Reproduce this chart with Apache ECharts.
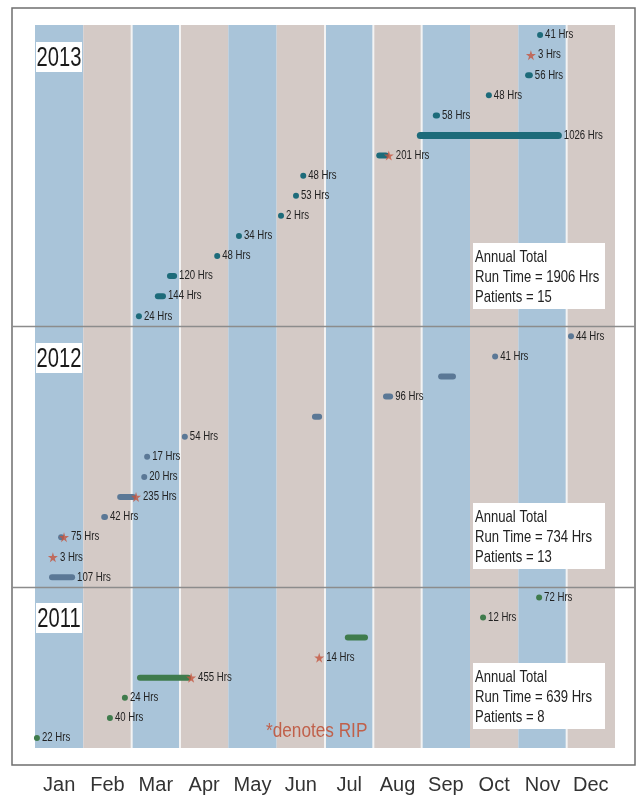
<!DOCTYPE html>
<html><head><meta charset="utf-8">
<script src="https://cdn.jsdelivr.net/npm/echarts@6/dist/echarts.min.js"></script>
<style>html,body{margin:0;padding:0;background:#fff}#c{width:639px;height:796px}</style>
</head><body><div id="c"></div>
<script>
const months = ['Jan','Feb','Mar','Apr','May','Jun','Jul','Aug','Sep','Oct','Nov','Dec'];
// each run: [startMonth, endMonth, hours (null = unlabeled), rip (1 = died)]
const runs2013 = [
  [10.45,10.45,41,0],
  [10.26,10.26,3,1],
  [10.14,10.30,56,0],
  [9.39,9.39,48,0],
  [8.23,8.38,58,0],
  [7.90,10.90,1026,0],
  [7.06,7.32,201,1],
  [5.55,5.55,48,0],
  [5.40,5.40,53,0],
  [5.09,5.09,2,0],
  [4.22,4.22,34,0],
  [3.77,3.77,48,0],
  [2.73,2.94,120,0],
  [2.48,2.71,144,0],
  [2.15,2.15,24,0]
];
const runs2012 = [
  [11.09,11.09,44,0],
  [9.52,9.52,41,0],
  [8.34,8.71,null,0],
  [7.20,7.41,96,0],
  [5.73,5.94,null,0],
  [3.10,3.10,54,0],
  [2.32,2.32,17,0],
  [2.26,2.26,20,0],
  [1.70,2.09,235,1],
  [1.37,1.51,42,0],
  [0.48,0.60,75,1],
  [0.37,0.37,3,1],
  [0.29,0.83,107,0]
];
const runs2011 = [
  [10.43,10.43,72,0],
  [9.27,9.27,12,0],
  [6.41,6.89,null,0],
  [5.88,5.88,14,1],
  [2.11,3.23,455,1],
  [1.86,1.86,24,0],
  [1.55,1.55,40,0],
  [0.04,0.04,22,0]
];
const years = ['2013','2012','2011'];
const totalHours = [1906, 734, 639];
const totalPatients = [15, 13, 8];

const FONT = '"Liberation Sans", Arial, sans-serif';
const yearColors = ['#1d6b7a', '#5b7896', '#3f7b4c'];
const starColor = '#c4553f';
const STAR = 'path://M50,0 L61,35 L98,35 L68,57 L79,91 L50,70 L21,91 L32,57 L2,35 L39,35 Z';
const sepMonths = [2,3,6,7,8,11];

const allRuns = [runs2013, runs2012, runs2011];
let offset = 0;
const rowStart = [];
allRuns.forEach(r => { rowStart.push(offset); offset += r.length; });
const totalRows = offset; // 36

const chart = echarts.init(document.getElementById('c'));

function runSeries(runs, yi) {
  const data = runs.map((r, i) => [r[0], r[1], rowStart[yi] + i]);
  return {
    type: 'custom',
    z: 5,
    encode: { x: [0, 1], y: 2 },
    data: data,
    renderItem: function (params, api) {
      const r = runs[params.dataIndex];
      const row = api.value(2);
      const s = api.coord([r[0], row]);
      const e = api.coord([r[1], row]);
      const h = (e[0] - s[0] > 100) ? 7 : 6;
      const children = [];
      let right;
      if (r[3] && e[0] - s[0] < 1) {
        right = e[0] + 5;
      } else if (e[0] - s[0] < h) {
        const mid = (s[0] + e[0]) / 2;
        children.push({ type: 'circle', shape: { cx: mid, cy: s[1], r: h / 2 }, style: { fill: yearColors[yi] } });
        right = mid + h / 2;
      } else {
        children.push({ type: 'rect', shape: { x: s[0], y: s[1] - h / 2, width: e[0] - s[0], height: h, r: h / 2 }, style: { fill: yearColors[yi] } });
        right = e[0];
      }
      if (r[3]) right = Math.max(right, e[0] + 5);
      if (r[2] != null) {
        children.push({ type: 'text', x: right + 2, y: s[1], scaleX: 0.8,
          style: { text: r[2] + ' Hrs', x: 0, y: 0, fill: '#222', fontSize: 12, fontFamily: FONT, align: 'left', verticalAlign: 'middle' } });
      }
      return { type: 'group', children: children };
    }
  };
}

const starData = [];
allRuns.forEach((runs, yi) => runs.forEach((r, i) => { if (r[3]) starData.push([r[1], rowStart[yi] + i]); }));

const series = [
  {
    type: 'custom',
    z: 1,
    silent: true,
    data: months.map((m, i) => [i, 0]),
    renderItem: function (params, api) {
      const i = api.value(0);
      const p0 = api.coord([i, -0.5]);
      const p1 = api.coord([i + 1, totalRows - 0.5]);
      const ch = [{ type: 'rect', shape: { x: p0[0], y: p0[1], width: p1[0] - p0[0], height: p1[1] - p0[1] }, style: { fill: i % 2 === 0 ? '#a9c4d9' : '#d4cac6' } }];
      if (sepMonths.indexOf(i) >= 0) {
        ch.push({ type: 'rect', shape: { x: p0[0] - 1, y: p0[1], width: 2, height: p1[1] - p0[1] }, style: { fill: '#f3f3f3' } });
      }
      return { type: 'group', children: ch };
    }
  },
  runSeries(runs2013, 0),
  runSeries(runs2012, 1),
  runSeries(runs2011, 2),
  {
    type: 'scatter',
    z: 6,
    symbol: STAR,
    symbolSize: 10,
    itemStyle: { color: starColor },
    data: starData
  }
];

const Z = 100;
const graphics = [
  { type: 'rect', z: Z, shape: { x: 12, y: 8, width: 623, height: 757 }, style: { fill: null, stroke: '#6f6f6f', lineWidth: 1.5 } }
];
[rowStart[1] - 0.5, rowStart[2] - 0.5].forEach(v => {
  graphics.push({ type: 'line', z: Z, id: 'div' + v, shape: { x1: 12, y1: 0, x2: 635, y2: 0 }, style: { stroke: '#8c8c8c', lineWidth: 1.5 } });
});
const yearBoxY = [42, 343, 603];
const totalBoxY = [243, 503, 663];
years.forEach((y, i) => {
  graphics.push({ type: 'rect', z: Z, shape: { x: 36, y: yearBoxY[i], width: 46, height: 30 }, style: { fill: '#ffffff' } });
  graphics.push({ type: 'text', z: Z + 1, x: 59, y: yearBoxY[i] + 16, scaleX: 0.72,
    style: { text: y, x: 0, y: 0, fill: '#1a1a1a', fontSize: 28, fontFamily: FONT, align: 'center', verticalAlign: 'middle' } });
  graphics.push({ type: 'rect', z: Z, shape: { x: 473, y: totalBoxY[i], width: 132, height: 66 }, style: { fill: '#ffffff' } });
  const lines = ['Annual Total', 'Run Time = ' + totalHours[i] + ' Hrs', 'Patients = ' + totalPatients[i]];
  lines.forEach((t, k) => graphics.push({ type: 'text', z: Z + 1, x: 475, y: totalBoxY[i] + 14 + 20 * k, scaleX: 0.77,
    style: { text: t, x: 0, y: 0, fill: '#222', fontSize: 17, fontFamily: FONT, align: 'left', verticalAlign: 'middle' } }));
});
graphics.push({ type: 'text', z: Z, x: 266, y: 731, scaleX: 0.86,
  style: { text: '*denotes RIP', x: 0, y: 0, fill: '#c0604a', fontSize: 20, fontFamily: FONT, align: 'left', verticalAlign: 'middle' } });

chart.setOption({
  animation: false,
  backgroundColor: '#ffffff',
  grid: { left: 35, right: 24, top: 25, bottom: 48 },
  xAxis: [
    { type: 'value', min: 0, max: 12, interval: 1, show: false },
    { type: 'category', data: months, boundaryGap: true, position: 'bottom',
      axisLine: { show: false }, axisTick: { show: false }, splitLine: { show: false },
      axisLabel: { interval: 0, fontSize: 20, fontFamily: FONT, color: '#333', margin: 27 } }
  ],
  yAxis: { type: 'value', min: -0.5, max: totalRows - 0.5, inverse: true, show: false },
  series: series,
  graphic: graphics
});

const divs = [rowStart[1] - 0.5, rowStart[2] - 0.5];
chart.setOption({ graphic: divs.map(v => {
  const py = Math.round(chart.convertToPixel({ yAxisIndex: 0 }, v)) + 0.5;
  return { id: 'div' + v, shape: { x1: 12, y1: py, x2: 635, y2: py } };
}) });
</script>
</body></html>
